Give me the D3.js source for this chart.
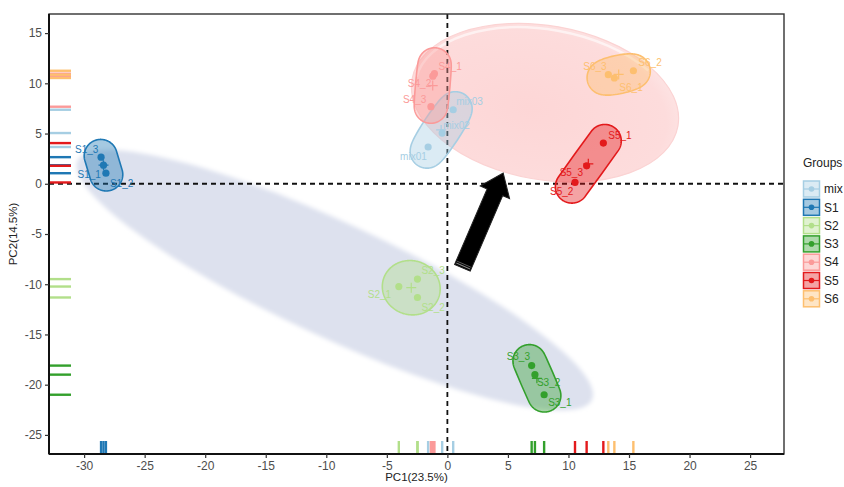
<!DOCTYPE html>
<html>
<head>
<meta charset="utf-8">
<script src="https://cdn.jsdelivr.net/npm/d3@7/dist/d3.min.js"></script>
<style>
  html, body { margin: 0; padding: 0; background: #ffffff; }
  svg { display: block; font-family: Arial, "Liberation Sans", sans-serif; }
</style>
</head>
<body>
<svg id="chart" width="844" height="487"></svg>
<script>
// ---------------- DATA ----------------
const groups = ["mix", "S1", "S2", "S3", "S4", "S5", "S6"];
const sampleNames = ["mix01","mix02","mix03","S1_1","S1_2","S1_3","S2_1","S2_2","S2_3",
                     "S3_1","S3_2","S3_3","S4_1","S4_2","S4_3","S5_1","S5_2","S5_3",
                     "S6_1","S6_2","S6_3"];
const sampleGroup = ["mix","mix","mix","S1","S1","S1","S2","S2","S2",
                     "S3","S3","S3","S4","S4","S4","S5","S5","S5","S6","S6","S6"];
const pc1 = [-1.59, -0.43, 0.48, -28.4, -28.2, -28.6, -4.01, -2.47, -2.47,
             7.99, 7.23, 6.96, -1.07, -1.2, -1.36, 12.88, 10.54, 11.5, 13.79, 15.36, 13.29];
const pc2 = [3.66, 5.05, 7.37, 1.85, 1.05, 2.65, -10.23, -11.32, -9.49,
             -21.0, -19.0, -18.1, 10.96, 10.71, 7.67, 4.05, 0.13, 1.79, 10.53, 11.25, 10.86];
const xTicks = [-30, -25, -20, -15, -10, -5, 0, 5, 10, 15, 20, 25];
const yTicks = [-25, -20, -15, -10, -5, 0, 5, 10, 15];
const xTitle = "PC1(23.5%)";
const yTitle = "PC2(14.5%)";
const legendTitle = "Groups";

// ---------------- STYLE / LAYOUT ----------------
const colors = ["#a6cee3", "#1f78b4", "#b2df8a", "#33a02c", "#fb9a99", "#e31a1c", "#fdbf6f"];
const color = d3.scaleOrdinal().domain(groups).range(colors);
// label nudges in px (dx to text start, dy to text middle), mimicking ggrepel layout
const labelNudge = [[-28,9],[1,-8],[3,-8],[-26,9],[4,10],[-26,-8],[-31,8],[4,10],[4,-9],
                    [4,8],[2,8],[-25,-9],[4,-7],[-25,7],[-28,-7],[5,-8],[-25,9],[-27,7],
                    [5,10],[5,-8],[-25,-8]];
// annotation shapes, in data units
const greyEllipseEnds = [[-30.54, 2.3], [11.94, -21.5]];
const pinkEllipseCenter = [8.06, 8.07];
const arrowEnds = [[1.24, -8.37], [4.61, 1.07]];

const panel = {left: 49, right: 784, top: 14, bottom: 454};

const svg = d3.select("#chart");
const x = d3.scaleLinear().domain([-32.9, 27.8]).range([panel.left, panel.right]);
const y = d3.scaleLinear().domain([-26.9, 16.9]).range([panel.bottom, panel.top]);

const defs = svg.append("defs");
defs.append("filter").attr("id", "soft").attr("x", "-20%").attr("y", "-20%").attr("width", "140%").attr("height", "140%")
  .append("feGaussianBlur").attr("stdDeviation", 2.2);
defs.append("clipPath").attr("id", "panelClip").append("rect")
  .attr("x", panel.left).attr("y", panel.top)
  .attr("width", panel.right - panel.left).attr("height", panel.bottom - panel.top);
const rg = defs.append("radialGradient").attr("id", "pinkGrad").attr("cx", "45%").attr("cy", "55%").attr("r", "60%");
rg.append("stop").attr("offset", "0%").attr("stop-color", "#fdd6d6");
rg.append("stop").attr("offset", "85%").attr("stop-color", "#fddcdc");
rg.append("stop").attr("offset", "100%").attr("stop-color", "#fde6e6");

const plot = svg.append("g").attr("clip-path", "url(#panelClip)");

// ---- annotation: grey ellipse ----
{
  const ax = x(greyEllipseEnds[0][0]), ay = y(greyEllipseEnds[0][1]);
  const bx = x(greyEllipseEnds[1][0]), by = y(greyEllipseEnds[1][1]);
  const cx = (ax + bx) / 2, cy = (ay + by) / 2;
  const a = Math.hypot(bx - ax, by - ay) / 2;
  const ang = Math.atan2(by - ay, bx - ax) * 180 / Math.PI;
  plot.append("ellipse").attr("cx", 0).attr("cy", 0).attr("rx", a).attr("ry", 57)
    .attr("transform", `translate(${cx},${cy}) rotate(${ang})`)
    .attr("fill", "#dde1ee").attr("filter", "url(#soft)");
}
// ---- annotation: pink ellipse ----
{
  const cx = x(pinkEllipseCenter[0]), cy = y(pinkEllipseCenter[1]);
  const gP = plot.append("g").attr("transform", `translate(${cx},${cy}) rotate(10)`);
  gP.append("ellipse").attr("rx", 135).attr("ry", 77).attr("fill", "url(#pinkGrad)")
    .attr("stroke", "#fbd3d3").attr("stroke-width", 1.2);
  gP.append("ellipse").attr("rx", 131).attr("ry", 73).attr("fill", "none")
    .attr("stroke", "#ffffff").attr("stroke-opacity", 0.6).attr("stroke-width", 2.5)
    .attr("stroke-dasharray", "0,330,260,1000");
}

// ---- zero lines ----
plot.append("line").attr("x1", x(0)).attr("x2", x(0)).attr("y1", panel.top).attr("y2", panel.bottom)
  .attr("stroke", "#111").attr("stroke-width", 1.8).attr("stroke-dasharray", "5,4");
plot.append("line").attr("x1", panel.left).attr("x2", panel.right).attr("y1", y(0)).attr("y2", y(0))
  .attr("stroke", "#111").attr("stroke-width", 1.8).attr("stroke-dasharray", "5,4");

// ---- group ellipses (minimum enclosing ellipse expanded, like geom_mark_ellipse) ----
const pts = sampleNames.map((n, i) => ({name: n, group: sampleGroup[i], x: x(pc1[i]), y: y(pc2[i]), i}));
const expand = 16.5;
groups.forEach(g => {
  const P = pts.filter(p => p.group === g);
  const G = [d3.mean(P, p => p.x), d3.mean(P, p => p.y)];
  const [A, B, C] = P;
  // Steiner circumellipse: conjugate semi-diameters f1, f2
  const f1 = [C.x - G[0], C.y - G[1]];
  const f2 = [(B.x - A.x) / Math.sqrt(3), (B.y - A.y) / Math.sqrt(3)];
  const Sxx = f1[0] * f1[0] + f2[0] * f2[0];
  const Syy = f1[1] * f1[1] + f2[1] * f2[1];
  const Sxy = f1[0] * f1[1] + f2[0] * f2[1];
  const T = Sxx + Syy, D = Sxx * Syy - Sxy * Sxy;
  const disc = Math.sqrt(Math.max(0, T * T / 4 - D));
  const a = Math.sqrt(T / 2 + disc), b = Math.sqrt(Math.max(1e-6, T / 2 - disc));
  const th = 0.5 * Math.atan2(2 * Sxy, Sxx - Syy);
  const ct = Math.cos(th), st = Math.sin(th);
  const ring = [];
  const N = 240;
  for (let k = 0; k < N; k++) {
    const phi = 2 * Math.PI * k / N;
    const c = Math.cos(phi), s = Math.sin(phi);
    const den = Math.sqrt(a * a * c * c + b * b * s * s);
    const lx = a * a * c / den + expand * c;
    const ly = b * b * s / den + expand * s;
    ring.push([G[0] + lx * ct - ly * st, G[1] + lx * st + ly * ct]);
  }
  plot.append("path").attr("d", d3.line().curve(d3.curveLinearClosed)(ring))
    .attr("fill", color(g)).attr("fill-opacity", 0.4)
    .attr("stroke", color(g)).attr("stroke-width", 1.6);
  // centroid cross
  plot.append("path").attr("d", `M${G[0]-5},${G[1]}H${G[0]+5}M${G[0]},${G[1]-5}V${G[1]+5}`)
    .attr("stroke", color(g)).attr("stroke-width", 1.2);
});

// ---- rugs ----
const rugX = plot.append("g");
pts.forEach(p => {
  rugX.append("line").attr("x1", p.x).attr("x2", p.x).attr("y1", panel.bottom).attr("y2", panel.bottom - 13)
    .attr("stroke", color(p.group)).attr("stroke-width", 2.4);
  rugX.append("line").attr("x1", panel.left).attr("x2", panel.left + 22).attr("y1", p.y).attr("y2", p.y)
    .attr("stroke", color(p.group)).attr("stroke-width", 2.4);
});

// ---- points ----
plot.selectAll("circle.pt").data(pts).join("circle").attr("class", "pt")
  .attr("cx", d => d.x).attr("cy", d => d.y).attr("r", 3.6).attr("fill", d => color(d.group));

// ---- labels ----
plot.selectAll("text.lab").data(pts).join("text").attr("class", "lab")
  .attr("x", d => d.x + labelNudge[d.i][0]).attr("y", d => d.y + labelNudge[d.i][1])
  .attr("dy", "0.35em").attr("font-size", 10).attr("fill", d => color(d.group)).text(d => d.name);

// ---- arrow annotation ----
{
  const tx = x(arrowEnds[0][0]), ty = y(arrowEnds[0][1]);
  const hx = x(arrowEnds[1][0]), hy = y(arrowEnds[1][1]);
  const L = Math.hypot(hx - tx, hy - ty);
  const ang = Math.atan2(hy - ty, hx - tx) * 180 / Math.PI;
  const sw = 8.5, hw = 16, hl = 21;
  const poly = [[0, -sw], [L - hl, -sw], [L - hl, -hw], [L, 0], [L - hl, hw], [L - hl, sw], [0, sw]];
  const ga = svg.append("g").attr("transform", `translate(${tx},${ty}) rotate(${ang})`);
  ga.append("polygon").attr("points", poly.map(p => p.join(",")).join(" "))
    .attr("fill", "#000").attr("stroke", "#222").attr("stroke-width", 1);
  ga.append("line").attr("x1", 2).attr("x2", 2).attr("y1", -sw + 1).attr("y2", sw - 1)
    .attr("stroke", "#888").attr("stroke-width", 1);
  ga.append("line").attr("x1", 4).attr("x2", 4).attr("y1", -sw + 1).attr("y2", sw - 1)
    .attr("stroke", "#666").attr("stroke-width", 0.8);
}

// ---- frame ----
svg.append("rect").attr("x", panel.left).attr("y", panel.top)
  .attr("width", panel.right - panel.left).attr("height", panel.bottom - panel.top)
  .attr("fill", "none").attr("stroke", "#333").attr("stroke-width", 1.4);
svg.append("line").attr("x1", panel.left).attr("x2", panel.left).attr("y1", panel.top).attr("y2", panel.bottom)
  .attr("stroke", "#111").attr("stroke-width", 2);
svg.append("line").attr("x1", panel.left).attr("x2", panel.right).attr("y1", panel.bottom).attr("y2", panel.bottom)
  .attr("stroke", "#111").attr("stroke-width", 2);

// ---- axes ----
const xAxis = svg.append("g").attr("transform", `translate(0,${panel.bottom})`)
  .call(d3.axisBottom(x).tickValues(xTicks).tickSize(4).tickPadding(3));
const yAxis = svg.append("g").attr("transform", `translate(${panel.left},0)`)
  .call(d3.axisLeft(y).tickValues(yTicks).tickSize(4).tickPadding(3));
[xAxis, yAxis].forEach(a => {
  a.select(".domain").remove();
  a.selectAll(".tick line").attr("stroke", "#333").attr("stroke-width", 1.2);
  a.selectAll(".tick text").attr("fill", "#4d4d4d").attr("font-size", 12)
    .attr("font-family", "Arial, 'Liberation Sans', sans-serif").text(d => String(d));
});

svg.append("text").attr("x", (panel.left + panel.right) / 2).attr("y", 481)
  .attr("text-anchor", "middle").attr("font-size", 11.5).attr("fill", "#222").text(xTitle);
svg.append("text").attr("transform", `translate(13,${(panel.top + panel.bottom) / 2}) rotate(-90)`)
  .attr("text-anchor", "middle").attr("dy", "0.35em").attr("font-size", 11.5).attr("fill", "#222").text(yTitle);

// ---- legend ----
const leg = svg.append("g").attr("transform", "translate(803,0)");
leg.append("text").attr("x", 0).attr("y", 163).attr("dy", "0.35em").attr("font-size", 12)
  .attr("fill", "#222").text(legendTitle);
groups.forEach((g, i) => {
  const cy = 189 + i * 18.3;
  const k = leg.append("g").attr("transform", `translate(0,${cy})`);
  k.append("rect").attr("x", 0.5).attr("y", -8).attr("width", 16).attr("height", 16)
    .attr("fill", color(g)).attr("fill-opacity", 0.4).attr("stroke", color(g)).attr("stroke-width", 1.5);
  k.append("line").attr("x1", 1).attr("x2", 16).attr("y1", 0).attr("y2", 0)
    .attr("stroke", color(g)).attr("stroke-width", 1.2);
  k.append("circle").attr("cx", 8.5).attr("cy", 0).attr("r", 2.8).attr("fill", color(g));
  k.append("text").attr("x", 21).attr("y", 0).attr("dy", "0.35em").attr("font-size", 12)
    .attr("fill", "#222").text(g);
});
</script>
</body>
</html>
